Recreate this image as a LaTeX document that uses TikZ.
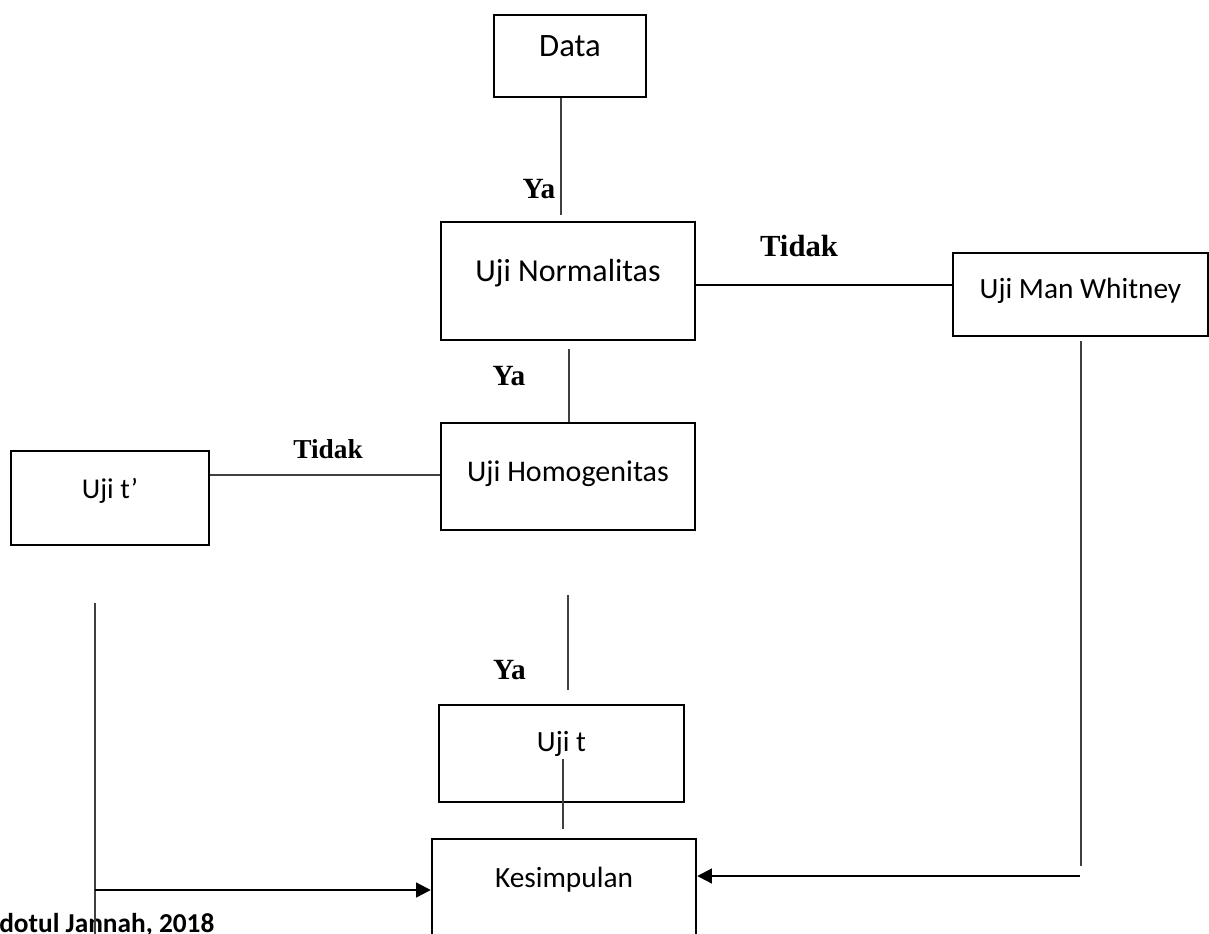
\documentclass[tikz,border=0pt]{standalone}
\usepackage{fontspec}
\setmainfont{Carlito}
\newfontfamily\lblfont{Liberation Serif}
\usetikzlibrary{arrows.meta}
\tikzset{
  box/.style={draw=black, line width=1.8pt, rectangle, inner sep=0pt},
  boxtext/.style={font=\fontsize{22}{26}\selectfont, inner sep=0pt},
  lbl/.style={font=\lblfont\bfseries\fontsize{22}{26}\selectfont, inner sep=0pt},
  thinline/.style={draw=black!75, line width=0.8pt},
  thickline/.style={draw=black, line width=1.6pt},
  arr/.style={thickline, -{Triangle[length=11pt,width=11pt]}},
}
\begin{document}
\begin{tikzpicture}[x=0.75pt,y=-0.75pt]
\useasboundingbox (0,0) rectangle (1209,933);
% boxes
\node[box, minimum width=114pt, minimum height=61.5pt,
  label={[boxtext, font=\fontsize{24.5}{28}\selectfont, yshift=7.5pt]center:Data}] (data) at (570,56) {};
\node[box, minimum width=190.5pt, minimum height=88.5pt,
  label={[boxtext, font=\fontsize{24}{28}\selectfont, yshift=6pt]center:Uji Normalitas}] (norm) at (568,281) {};
\node[box, minimum width=191.25pt, minimum height=62.25pt,
  label={[boxtext, yshift=3pt]center:Uji Man Whitney}] (mw) at (1080.5,294.5) {};
\node[box, minimum width=190.5pt, minimum height=80.25pt,
  label={[boxtext, font=\fontsize{22.5}{26}\selectfont, yshift=2pt]center:Uji Homogenitas}] (homog) at (568,476.5) {};
\node[box, minimum width=148.5pt, minimum height=70.5pt,
  label={[boxtext, font=\fontsize{21.5}{25}\selectfont, yshift=5pt]center:Uji t’}] (utp) at (110,498) {};
\node[box, minimum width=183.75pt, minimum height=72.75pt,
  label={[boxtext, yshift=7.5pt]center:Uji t}] (ut) at (561.5,753.5) {};
\node[box, minimum width=198pt, minimum height=90.75pt,
  label={[boxtext, yshift=14.6pt]center:Kesimpulan}] (kes) at (564,899.5) {};
% labels
\node[lbl] (ya1) at (539,189) {Ya};
\node[lbl, font=\lblfont\bfseries\fontsize{23}{27}\selectfont] (tidak1) at (799,246) {Tidak};
\node[lbl] (ya2) at (509,376) {Ya};
\node[lbl, font=\lblfont\bfseries\fontsize{20.5}{24}\selectfont] (tidak2) at (328,449) {Tidak};
\node[lbl] (ya3) at (509.5,670) {Ya};
\node[font=\bfseries\fontsize{20.5}{24}\selectfont, inner sep=0pt, anchor=base west] (src) at (-1,932) {dotul Jannah, 2018};
% coordinates
\coordinate (c1) at (561,215);
\coordinate (c2) at (0,285);
\coordinate (c3a) at (569,349);
\coordinate (c4) at (0,475);
\coordinate (c5a) at (95,603);
\coordinate (c5b) at (95,890);
\coordinate (c5c) at (95,945);
\coordinate (c6a) at (568,595);
\coordinate (c6b) at (568,690);
\coordinate (c7a) at (563,759);
\coordinate (c7b) at (563,829);
\coordinate (c8a) at (1081,341);
\coordinate (c8b) at (1081,866);
\coordinate (c8c) at (1080,876);
% connectors
\draw[thinline] (data.south -| c1) -- (c1);
\draw[thickline] (norm.east |- c2) -- (mw.west |- c2);
\draw[thinline] (c3a) -- (homog.north -| c3a);
\draw[thinline] (utp.east |- c4) -- (homog.west |- c4);
\draw[thinline] (c5a) -- (c5c);
\draw[arr] (c5b) -- (kes.west |- c5b);
\draw[thinline] (c6a) -- (c6b);
\draw[thinline] (c7a) -- (c7b);
\draw[thinline] (c8a) -- (c8b);
\draw[arr] (c8c) -- (kes.east |- c8c);
\end{tikzpicture}
\end{document}
